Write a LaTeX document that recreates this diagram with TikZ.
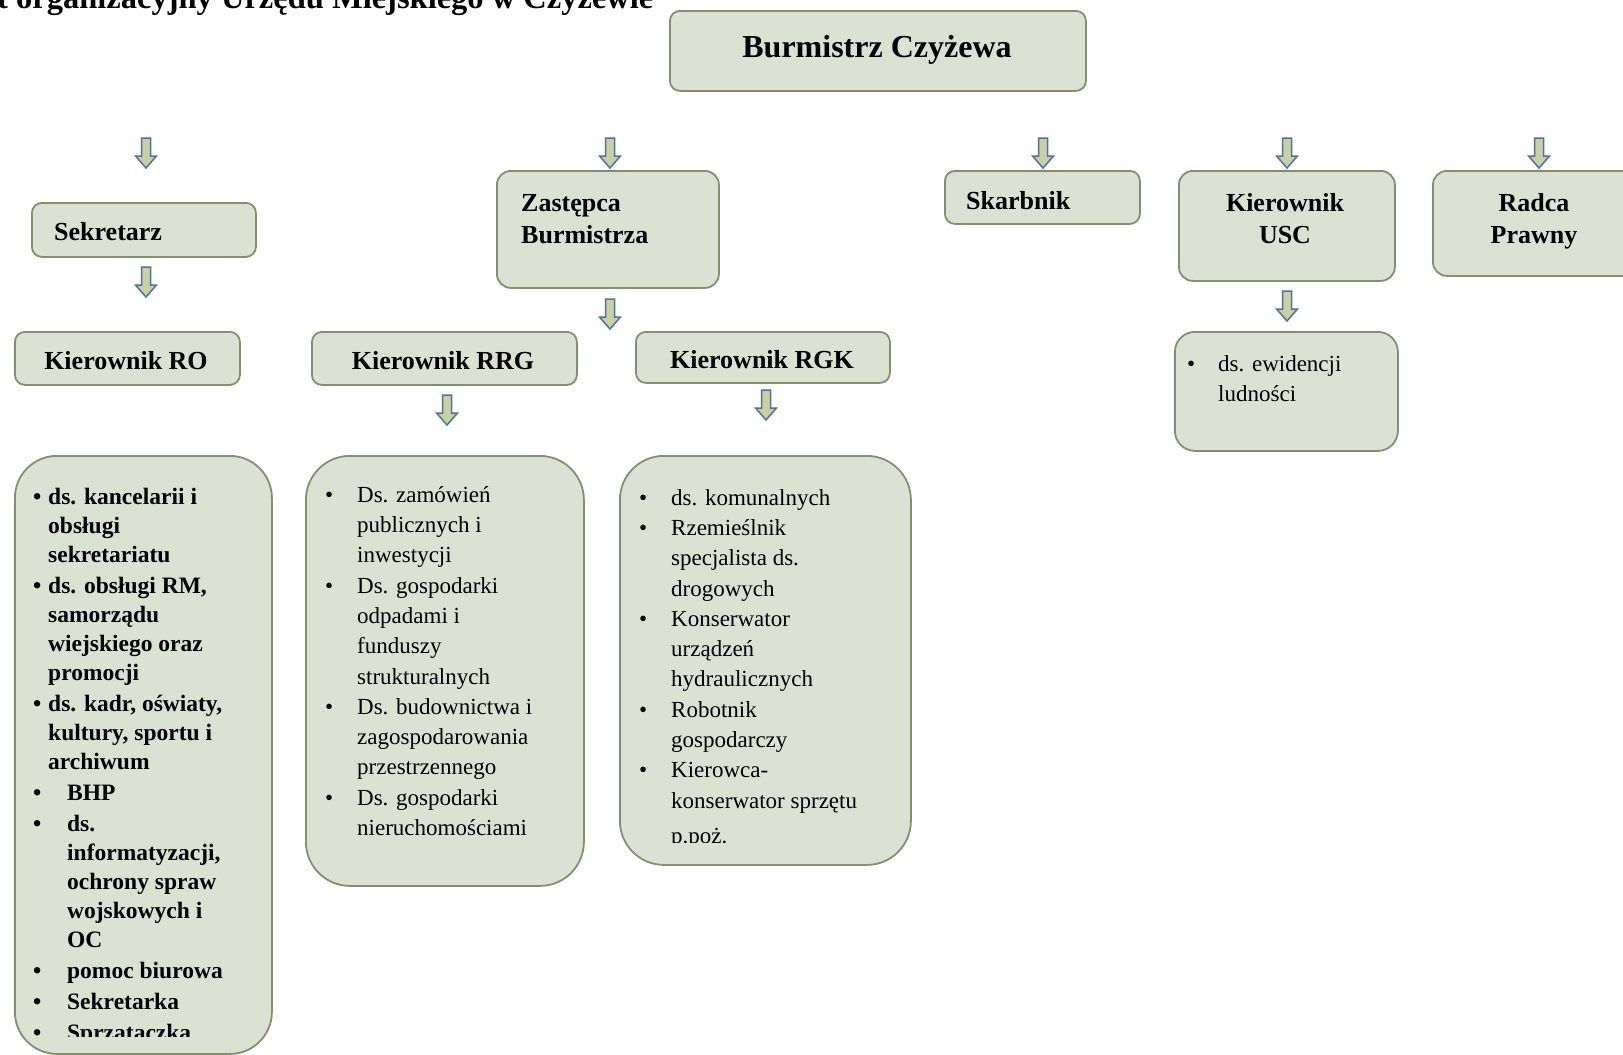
\documentclass[tikz,border=0pt]{standalone}
\usepackage{fontspec}
\setmainfont{Liberation Serif}
\definecolor{boxfill}{HTML}{DCE2D3}
\definecolor{boxline}{HTML}{848F72}
\definecolor{arrline}{HTML}{4F72A0}
\definecolor{arrfill}{HTML}{C9D0A2}
\newcommand{\fsz}[2]{\fontsize{#1}{#2}\selectfont}
\newcommand{\lbul}[1]{\makebox[#1pt][l]{•}}
\newcommand{\lind}[1]{\hspace*{#1pt}}
\tikzset{
  box/.style={draw=boxline, fill=boxfill, line width=1.8pt, rounded corners=#1,
              anchor=north west, inner sep=0pt},
  box/.default=10pt,
  lbl/.style={inner sep=0pt, font=\fsz{26}{32}\bfseries, align=center},
  listb/.style={inner sep=0pt, anchor=north west, align=left, font=\fsz{23.5}{29}\bfseries},
  listr/.style={inner sep=0pt, anchor=north west, align=left, font=\fsz{23}{30.3}},
  downarr/.pic={\path[draw=arrline, fill=arrfill, line width=1.5pt, line join=miter]
     (-4.5,-15) -- (-4.5,3) -- (-10.5,3) -- (0,15) -- (10.5,3) -- (4.5,3) -- (4.5,-15) -- cycle;}
}
\begin{document}
\begin{tikzpicture}[x=1pt,y=-1pt]
\useasboundingbox (0,0) rectangle (1623,1055);
\clip (0,0) rectangle (1623,1055);
\fill[white] (0,0) rectangle (1623,1055);

% title (cut off by the page edge)
\node[inner sep=0pt, anchor=base west, font=\fsz{32.5}{38}\bfseries] (title) at (-3,8)
  {t organizacyjny Urzędu Miejskiego w Czyżewie};

% top box
\node[box, minimum width=416pt, minimum height=80pt] (burm) at (669,10) {};
\node[lbl, font=\fsz{32}{38}\bfseries] (burmT) at (877,50) {Burmistrz Czyżewa};

% top row arrows
\pic (a1) at (146,153) {downarr};
\pic (a2) at (610,153) {downarr};
\pic (a3) at (1043,153) {downarr};
\pic (a4) at (1287,153) {downarr};
\pic (a5) at (1539,153) {downarr};

% second row boxes
\node[box, minimum width=224pt, minimum height=54pt] (sek) at (31,202) {};
\node[lbl, anchor=west] (sekT) at (54,232) {Sekretarz};

\node[box=14pt, minimum width=222pt, minimum height=117pt] (zast) at (496,170) {};
\node[lbl, anchor=west, align=left] (zastT) at (521,219) {Zastępca\\Burmistrza};

\node[box, minimum width=195pt, minimum height=53pt] (skarb) at (944,170) {};
\node[lbl, anchor=west] (skarbT) at (966,201) {Skarbnik};

\node[box=14pt, minimum width=216pt, minimum height=110pt] (usc) at (1178,170) {};
\node[lbl] (uscT) at (1285,219) {Kierownik\\USC};

\node[box=14pt, minimum width=204pt, minimum height=105pt] (radca) at (1432,170) {};
\node[lbl] (radcaT) at (1534,221) {Radca\\Prawny};

% arrows under second row
\pic (a6) at (146,282) {downarr};
\pic (a7) at (610,314) {downarr};
\pic (a8) at (1287,306) {downarr};

% third row boxes
\node[box, minimum width=225pt, minimum height=53pt] (kro) at (14,331) {};
\node[lbl] (kroT) at (126,361) {Kierownik RO};

\node[box, minimum width=265pt, minimum height=53pt] (krrg) at (311,331) {};
\node[lbl] (krrgT) at (443,361) {Kierownik RRG};

\node[box, minimum width=254pt, minimum height=51pt] (krgk) at (635,331) {};
\node[lbl] (krgkT) at (762,360) {Kierownik RGK};

\node[box=20pt, minimum width=223pt, minimum height=119pt] (uscl) at (1174,331) {};
\node[listr] (usclT) at (1187,355) {\lbul{31}ds. ewidencji\\\lind{31}ludności};

% arrows under third row
\pic (a9) at (447,410) {downarr};
\pic (a10) at (766,405) {downarr};

% list boxes
\node[box=42pt, minimum width=257pt, minimum height=598pt] (lro) at (14,455) {};
\begin{scope}
\clip (0,455) rectangle (300,1036);
\node[listb] (lroT) at (33,487.5) {%
\lbul{15}ds. kancelarii i\\
\lind{15}obsługi\\
\lind{15}sekretariatu\\[2pt]
\lbul{15}ds. obsługi RM,\\
\lind{15}samorządu\\
\lind{15}wiejskiego oraz\\
\lind{15}promocji\\[2pt]
\lbul{15}ds. kadr, oświaty,\\
\lind{15}kultury, sportu i\\
\lind{15}archiwum\\[2pt]
\lbul{34}BHP\\[2pt]
\lbul{34}ds.\\
\lind{34}informatyzacji,\\
\lind{34}ochrony spraw\\
\lind{34}wojskowych i\\
\lind{34}OC\\[2pt]
\lbul{34}pomoc biurowa\\[2pt]
\lbul{34}Sekretarka\\[2pt]
\lbul{34}Sprzątaczka};
\end{scope}

\node[box=44pt, minimum width=278pt, minimum height=430pt] (lrrg) at (305,455) {};
\node[listr] (lrrgT) at (325,486) {%
\lbul{32}Ds. zamówień\\
\lind{32}publicznych i\\
\lind{32}inwestycji\\
\lbul{32}Ds. gospodarki\\
\lind{32}odpadami i\\
\lind{32}funduszy\\
\lind{32}strukturalnych\\
\lbul{32}Ds. budownictwa i\\
\lind{32}zagospodarowania\\
\lind{32}przestrzennego\\
\lbul{32}Ds. gospodarki\\
\lind{32}nieruchomościami};

\node[box=44pt, minimum width=291pt, minimum height=409pt] (lrgk) at (619,455) {};
\begin{scope}
\clip (600,455) rectangle (930,842);
\node[listr] (lrgkT) at (639,489) {%
\lbul{32}ds. komunalnych\\
\lbul{32}Rzemieślnik\\
\lind{32}specjalista ds.\\
\lind{32}drogowych\\
\lbul{32}Konserwator\\
\lind{32}urządzeń\\
\lind{32}hydraulicznych\\
\lbul{32}Robotnik\\
\lind{32}gospodarczy\\
\lbul{32}Kierowca-\\
\lind{32}konserwator sprzętu\\[5pt]
\lind{32}p.poż.};
\end{scope}
\end{tikzpicture}
\end{document}
